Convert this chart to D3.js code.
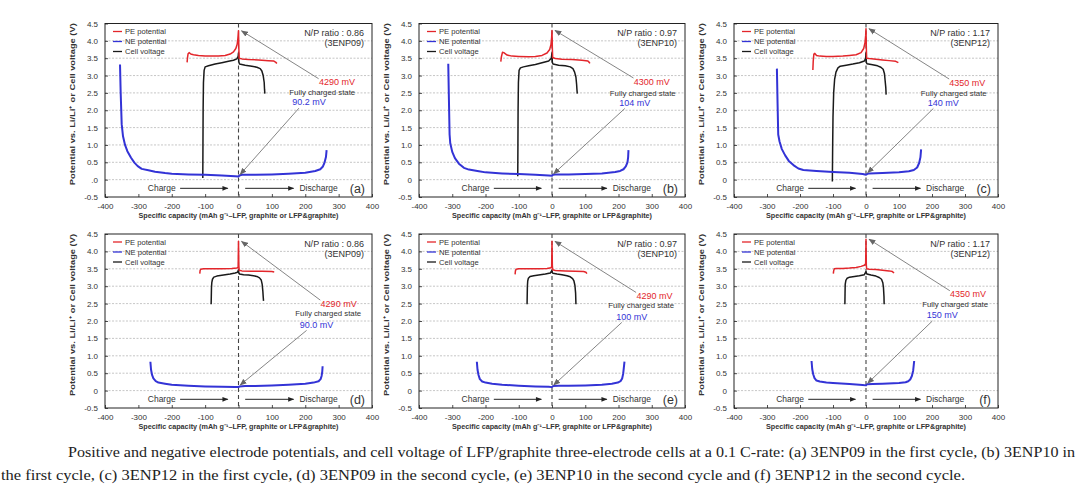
<!DOCTYPE html>
<html><head><meta charset="utf-8">
<script src="https://cdn.jsdelivr.net/npm/d3@7"></script>
<style>body{margin:0;background:#fff}svg{display:block}</style>
</head><body>
<svg id="c" width="1080" height="497"></svg>
<script>
// ---------- data ----------
const panelIds = ["a","b","c","d","e","f"];
const npRatios = ["0.86","0.97","1.17","0.86","0.97","1.17"];
const cellNames = ["3ENP09","3ENP10","3ENP12","3ENP09","3ENP10","3ENP12"];
const peLabels = ["4290 mV","4300 mV","4350 mV","4290 mV","4290 mV","4350 mV"];
const neLabels = ["90.2 mV","104 mV","140 mV","90.0 mV","100 mV","150 mV"];
const legendNames = ["PE potential","NE potential","Cell voltage"];
const xTicks = [-400,-300,-200,-100,0,100,200,300,400];
const yTicks = [-0.5,0,0.5,1,1.5,2,2.5,3,3.5,4,4.5];
const yTickLabels = ["-0.5","0","0.5","1.0","1.5","2.0","2.5","3.0","3.5","4.0","4.5"];
const yTickLabelsA = ["-0.5",".0","0.5","1.0","1.5","2.0","2.5","3.0","3.5","4.0","4.5"];
const xTitle = "Specific capacity (mAh g\u207B\u00B9\u2013LFP, graphite or LFP&graphite)";
const yTitle = "Potential vs. Li/Li\u207A or Cell voltage (V)";
const caption1 = "Positive and negative electrode potentials, and cell voltage of LFP/graphite three-electrode cells at a 0.1 C-rate: (a) 3ENP09 in the first cycle, (b) 3ENP10 in";
const caption2 = "the first cycle, (c) 3ENP12 in the first cycle, (d) 3ENP09 in the second cycle, (e) 3ENP10 in the second cycle and (f) 3ENP12 in the second cycle.";

const neA = [[-355,3.32],[-353,2.5],[-350,1.6],[-346,1.25],[-340,1.0],[-333,0.82],[-322,0.63],[-312,0.49],[-302,0.39],[-290,0.31],[-270,0.27],[-250,0.23],[-220,0.19],[-200,0.17],[-150,0.15],[-100,0.14],[-50,0.12],[-10,0.1],[0,0.09],[3,0.12],[10,0.14],[50,0.14],[100,0.15],[150,0.17],[200,0.2],[230,0.25],[245,0.3],[253,0.38],[258,0.5],[262,0.65],[264,0.85]];
const peA = [[-154,3.38],[-153,3.5],[-151,3.63],[-148,3.66],[-143,3.62],[-135,3.6],[-120,3.58],[-100,3.56],[-80,3.56],[-60,3.56],[-40,3.58],[-25,3.62],[-15,3.68],[-8,3.78],[-4,3.9],[-2,4.05],[0,4.29],[1,3.8],[2,3.5],[10,3.48],[30,3.46],[60,3.45],[90,3.43],[105,3.42],[112,3.38],[115,3.35]];
const cellA = [[-107,0.05],[-106.5,1.0],[-106,2.0],[-105,2.8],[-103,3.15],[-100,3.25],[-90,3.28],[-70,3.33],[-50,3.37],[-30,3.41],[-15,3.44],[-5,3.48],[-1,3.55],[0,3.65],[1,3.4],[3,3.33],[20,3.3],[40,3.27],[55,3.24],[65,3.2],[70,3.13],[74,3.0],[77,2.8],[78,2.6],[79,2.48]];

const neB = [[-312,3.34],[-310,2.3],[-308,1.3],[-306,1.05],[-300,0.8],[-292,0.62],[-280,0.46],[-265,0.34],[-250,0.29],[-220,0.24],[-200,0.21],[-150,0.18],[-100,0.16],[-50,0.14],[-10,0.12],[0,0.11],[3,0.14],[10,0.15],[50,0.15],[100,0.16],[150,0.18],[190,0.22],[205,0.25],[215,0.3],[222,0.38],[227,0.5],[229,0.65],[230,0.85]];
const peB = [[-154,3.4],[-152,3.55],[-149,3.67],[-145,3.66],[-135,3.59],[-120,3.56],[-100,3.55],[-70,3.54],[-50,3.55],[-30,3.58],[-15,3.65],[-7,3.75],[-3,3.9],[-1,4.1],[0,4.3],[1,3.8],[2,3.52],[10,3.49],[30,3.47],[60,3.46],[90,3.44],[108,3.42],[112,3.38],[114,3.35]];
const cellB = [[-103,0.1],[-102.5,1.0],[-102,2.0],[-101,2.8],[-99,3.15],[-95,3.22],[-86,3.25],[-70,3.28],[-50,3.32],[-30,3.37],[-10,3.42],[-2,3.5],[0,3.65],[1,3.38],[3,3.33],[20,3.3],[40,3.28],[55,3.25],[63,3.2],[68,3.1],[72,2.95],[74,2.75],[75,2.6],[76,2.48]];

const neC = [[-270,3.2],[-268,2.2],[-266,1.3],[-262,1.1],[-255,0.88],[-245,0.7],[-234,0.54],[-220,0.42],[-205,0.32],[-190,0.28],[-150,0.25],[-100,0.22],[-50,0.2],[-10,0.16],[0,0.14],[3,0.16],[10,0.18],[50,0.19],[100,0.21],[130,0.24],[145,0.28],[155,0.35],[161,0.48],[165,0.65],[167,0.87]];
const peC = [[-161,3.16],[-160,3.4],[-158,3.62],[-155,3.64],[-150,3.58],[-140,3.56],[-120,3.55],[-100,3.55],[-70,3.56],[-50,3.58],[-30,3.6],[-15,3.66],[-7,3.78],[-3,3.95],[-1,4.15],[0,4.35],[1,3.8],[2,3.5],[10,3.49],[30,3.47],[50,3.45],[70,3.43],[90,3.41],[98,3.37]];
const cellC = [[-102,-0.05],[-101,1.0],[-100,1.8],[-98,2.5],[-95,2.9],[-91,3.1],[-85,3.22],[-78,3.27],[-60,3.3],[-40,3.33],[-20,3.37],[-5,3.42],[-1,3.5],[0,3.65],[1,3.38],[3,3.34],[20,3.31],[35,3.28],[45,3.24],[52,3.18],[56,3.05],[58,2.85],[60,2.65],[61,2.45]];

const neD = [[-264,0.83],[-262,0.6],[-259,0.45],[-255,0.35],[-248,0.27],[-240,0.23],[-220,0.2],[-200,0.17],[-150,0.14],[-100,0.12],[-50,0.11],[-10,0.1],[0,0.1],[3,0.12],[20,0.13],[50,0.13],[100,0.15],[150,0.17],[200,0.2],[225,0.23],[240,0.27],[246,0.33],[249,0.42],[251,0.55],[252,0.7]];
const peD = [[-116,3.36],[-115,3.45],[-113,3.49],[-105,3.5],[-80,3.5],[-50,3.5],[-20,3.51],[-5,3.52],[-1,3.55],[0,4.29],[1,3.6],[2,3.46],[10,3.44],[40,3.43],[70,3.43],[100,3.42],[107,3.41]];
const cellD = [[-82,2.48],[-81.5,2.7],[-81,2.95],[-80,3.1],[-78,3.2],[-74,3.26],[-65,3.29],[-45,3.32],[-25,3.35],[-10,3.38],[-3,3.4],[0,3.47],[1,3.38],[3,3.35],[15,3.33],[30,3.32],[45,3.3],[55,3.28],[63,3.24],[68,3.18],[71,3.05],[73,2.85],[74,2.7],[75,2.58]];

const neE = [[-226,0.83],[-224,0.6],[-221,0.45],[-217,0.33],[-210,0.26],[-200,0.23],[-180,0.2],[-150,0.17],[-100,0.14],[-50,0.12],[-10,0.11],[0,0.1],[3,0.13],[20,0.14],[50,0.14],[100,0.15],[150,0.17],[180,0.2],[198,0.23],[206,0.27],[211,0.35],[214,0.48],[216,0.65],[218,0.83]];
const peE = [[-111,3.34],[-110,3.44],[-108,3.49],[-100,3.5],[-70,3.5],[-40,3.5],[-15,3.51],[-3,3.53],[-1,3.56],[0,4.29],[1,3.6],[2,3.47],[10,3.45],[40,3.44],[70,3.43],[95,3.42],[102,3.4],[105,3.36]];
const cellE = [[-75,2.48],[-74.5,2.75],[-74,3.0],[-73,3.15],[-71,3.23],[-66,3.28],[-55,3.3],[-40,3.32],[-20,3.35],[-5,3.38],[0,3.45],[1,3.4],[3,3.37],[15,3.35],[30,3.33],[45,3.3],[55,3.27],[62,3.22],[66,3.15],[69,3.02],[71,2.8],[72,2.48]];

const neF = [[-165,0.85],[-163,0.62],[-160,0.47],[-156,0.36],[-150,0.29],[-140,0.26],[-120,0.23],[-100,0.22],[-50,0.19],[-10,0.16],[0,0.15],[3,0.18],[20,0.19],[50,0.2],[100,0.22],[120,0.24],[128,0.27],[134,0.32],[139,0.42],[143,0.58],[146,0.85]];
const peF = [[-99,3.36],[-98,3.44],[-96,3.5],[-90,3.51],[-70,3.51],[-50,3.52],[-30,3.54],[-15,3.57],[-5,3.6],[-1,3.65],[0,4.35],[1,3.6],[2,3.5],[10,3.49],[30,3.48],[50,3.46],[70,3.44],[80,3.42],[85,3.38]];
const cellF = [[-64,2.48],[-63.5,2.8],[-63,3.05],[-61,3.17],[-57,3.23],[-50,3.26],[-35,3.28],[-20,3.3],[-5,3.33],[0,3.42],[1,3.38],[3,3.35],[15,3.32],[30,3.29],[40,3.25],[47,3.2],[51,3.1],[53,2.95],[54.5,2.7],[55,2.48]];

const neSeries = [neA,neB,neC,neD,neE,neF];
const peSeries = [peA,peB,peC,peD,peE,peF];
const cellSeries = [cellA,cellB,cellC,cellD,cellE,cellF];

// ---------- layout (positions of annotation texts in data units) ----------
const annRed = [[295,2.81],[300,2.83],[307,2.8],[300,2.5],[308,2.72],[309,2.77]];
const annState = [[251,2.52],[273,2.5],[266,2.5],[269,2.22],[268,2.46],[270,2.48]];
const annBlue = [[211,2.23],[249,2.22],[234,2.22],[234,1.9],[240,2.13],[231,2.17]];

const colX0 = [105,419,734], colX1 = [372,685,998];
const rowY0 = [23.5,234], rowY1 = [197,408];

const RED = "#e3262b", BLUE = "#3333d6", BLACK = "#1a1a1a";
const FONT = "'Liberation Sans', Arial, sans-serif";

const svg = d3.select("#c");
svg.append("rect").attr("width",1080).attr("height",497).attr("fill","#fff");
const defs = svg.append("defs");
defs.append("marker").attr("id","ahg").attr("viewBox","0 0 10 10").attr("refX",9).attr("refY",5)
  .attr("markerWidth",7).attr("markerHeight",7).attr("markerUnits","userSpaceOnUse").attr("orient","auto")
  .append("path").attr("d","M0,1 L10,5 L0,9 Z").attr("fill","#666");
defs.append("marker").attr("id","ahk").attr("viewBox","0 0 10 10").attr("refX",9).attr("refY",5)
  .attr("markerWidth",7).attr("markerHeight",6).attr("markerUnits","userSpaceOnUse").attr("orient","auto")
  .append("path").attr("d","M0,1 L10,5 L0,9 Z").attr("fill","#222");

panelIds.forEach((id,i)=>{
  const col = i%3, row = Math.floor(i/3);
  const x0 = colX0[col], x1 = colX1[col], y0 = rowY0[row], y1 = rowY1[row];
  const x = d3.scaleLinear().domain([-400,400]).range([x0,x1]);
  const y = d3.scaleLinear().domain([-0.5,4.5]).range([y1,y0]);
  const g = svg.append("g");

  // grid
  g.selectAll(".grid").data(yTicks.filter(t=>t>-0.5 && t<4.5)).join("line")
    .attr("x1",x0).attr("x2",x1).attr("y1",d=>y(d)).attr("y2",d=>y(d))
    .attr("stroke","#b8b8b8").attr("stroke-width",0.8).attr("stroke-dasharray","2,1.5");

  // axes
  const labs = id==="a" ? yTickLabelsA : yTickLabels;
  const xa = g.append("g").attr("transform",`translate(0,${y1})`)
    .call(d3.axisBottom(x).tickValues(xTicks).tickSize(-3).tickPadding(6).tickFormat(d=>String(d)));
  const ya = g.append("g").attr("transform",`translate(${x0},0)`)
    .call(d3.axisLeft(y).tickValues(yTicks).tickSize(-3).tickPadding(7).tickFormat((d,k)=>labs[k]));
  [xa,ya].forEach(a=>{
    a.select(".domain").remove();
    a.selectAll("line").attr("stroke","#222").attr("stroke-width",0.8);
    a.selectAll("text").attr("font-family",FONT).attr("font-size",8).attr("fill","#333");
  });
  g.append("rect").attr("x",x0).attr("y",y0).attr("width",x1-x0).attr("height",y1-y0)
    .attr("fill","none").attr("stroke","#222").attr("stroke-width",1);

  // zero line
  g.append("line").attr("x1",x(0)).attr("x2",x(0)).attr("y1",y0).attr("y2",y1)
    .attr("stroke","#444").attr("stroke-width",1.1).attr("stroke-dasharray","4,3");

  // curves
  const line = d3.line().x(d=>x(d[0])).y(d=>y(d[1]));
  g.append("path").attr("d",line(cellSeries[i])).attr("fill","none").attr("stroke",BLACK).attr("stroke-width",1.5).attr("stroke-linejoin","round");
  g.append("path").attr("d",line(peSeries[i])).attr("fill","none").attr("stroke",RED).attr("stroke-width",1.5).attr("stroke-linejoin","round");
  g.append("path").attr("d",line(neSeries[i])).attr("fill","none").attr("stroke",BLUE).attr("stroke-width",2).attr("stroke-linejoin","round");

  // legend
  const legCols = [RED,BLUE,BLACK];
  legendNames.forEach((n,k)=>{
    const ly = y0 + 8 + k*10;
    g.append("line").attr("x1",x0+8).attr("x2",x0+17).attr("y1",ly).attr("y2",ly).attr("stroke",legCols[k]).attr("stroke-width",1.3);
    g.append("text").attr("x",x0+20).attr("y",ly+2.6).text(n).attr("font-family",FONT).attr("font-size",7.6).attr("fill","#333");
  });

  // N/P
  g.append("text").attr("x",x1-8).attr("y",y0+12.5).attr("text-anchor","end").text("N/P ratio : "+npRatios[i])
    .attr("font-family",FONT).attr("font-size",9).attr("fill","#333");
  g.append("text").attr("x",x1-8).attr("y",y0+22.5).attr("text-anchor","end").text("("+cellNames[i]+")")
    .attr("font-family",FONT).attr("font-size",9).attr("fill","#333");

  // annotations
  const peak = d3.max(peSeries[i], d=>d[1]);
  const neMin = neSeries[i].find(d=>d[0]===0)[1];
  g.append("line").attr("x1",x(annRed[i][0]-55)).attr("y1",y(annRed[i][1]+0.1))
    .attr("x2",x(9)).attr("y2",y(peak)).attr("stroke","#777").attr("stroke-width",0.9).attr("marker-end","url(#ahg)");
  g.append("line").attr("x1",x(annBlue[i][0]-30)).attr("y1",y(annBlue[i][1]-0.17))
    .attr("x2",x(5)).attr("y2",y(neMin+0.06)).attr("stroke","#777").attr("stroke-width",0.9).attr("marker-end","url(#ahg)");
  g.append("text").attr("x",x(annRed[i][0])).attr("y",y(annRed[i][1])+3.2).attr("text-anchor","middle").text(peLabels[i])
    .attr("font-family",FONT).attr("font-size",9).attr("fill",RED);
  g.append("text").attr("x",x(annState[i][0])).attr("y",y(annState[i][1])+2.8).attr("text-anchor","middle").text("Fully charged state")
    .attr("font-family",FONT).attr("font-size",7.8).attr("fill","#333");
  g.append("text").attr("x",x(annBlue[i][0])).attr("y",y(annBlue[i][1])+3.2).attr("text-anchor","middle").text(neLabels[i])
    .attr("font-family",FONT).attr("font-size",9).attr("fill",BLUE);

  // charge / discharge
  const cy = y(-0.25);
  g.append("text").attr("x",x(-230)).attr("y",cy+3).attr("text-anchor","middle").text("Charge").attr("font-family",FONT).attr("font-size",8.5).attr("fill","#333");
  g.append("line").attr("x1",x(-175)).attr("x2",x(-32)).attr("y1",cy).attr("y2",cy).attr("stroke","#222").attr("stroke-width",1).attr("marker-end","url(#ahk)");
  g.append("line").attr("x1",x(20)).attr("x2",x(165)).attr("y1",cy).attr("y2",cy).attr("stroke","#222").attr("stroke-width",1).attr("marker-end","url(#ahk)");
  g.append("text").attr("x",x(240)).attr("y",cy+3).attr("text-anchor","middle").text("Discharge").attr("font-family",FONT).attr("font-size",8.5).attr("fill","#333");
  g.append("text").attr("x",x1-7).attr("y",cy+4.5).attr("text-anchor","end").text("("+id+")").attr("font-family",FONT).attr("font-size",12.5).attr("fill","#333");

  // axis titles
  g.append("text").attr("x",(x0+x1)/2).attr("y",y1+21).attr("text-anchor","middle").text(xTitle)
    .attr("font-family",FONT).attr("font-size",7).attr("font-weight","bold").attr("fill","#333")
    .attr("textLength",200).attr("lengthAdjust","spacingAndGlyphs");
  g.append("text").attr("transform",`translate(${x0-30},${(y0+y1)/2-6}) rotate(-90)`).attr("text-anchor","middle").text(yTitle)
    .attr("font-family",FONT).attr("font-size",7.6).attr("font-weight","bold").attr("fill","#333")
    .attr("textLength",162).attr("lengthAdjust","spacingAndGlyphs");
});

// caption
svg.append("text").attr("x",68).attr("y",457).text(caption1).attr("font-family","'Liberation Serif', 'Times New Roman', serif")
  .attr("font-size",15).attr("fill","#222").attr("textLength",1007).attr("lengthAdjust","spacingAndGlyphs");
svg.append("text").attr("x",1).attr("y",480).text(caption2).attr("font-family","'Liberation Serif', 'Times New Roman', serif")
  .attr("font-size",15).attr("fill","#222").attr("textLength",964).attr("lengthAdjust","spacingAndGlyphs");
</script>
</body></html>
